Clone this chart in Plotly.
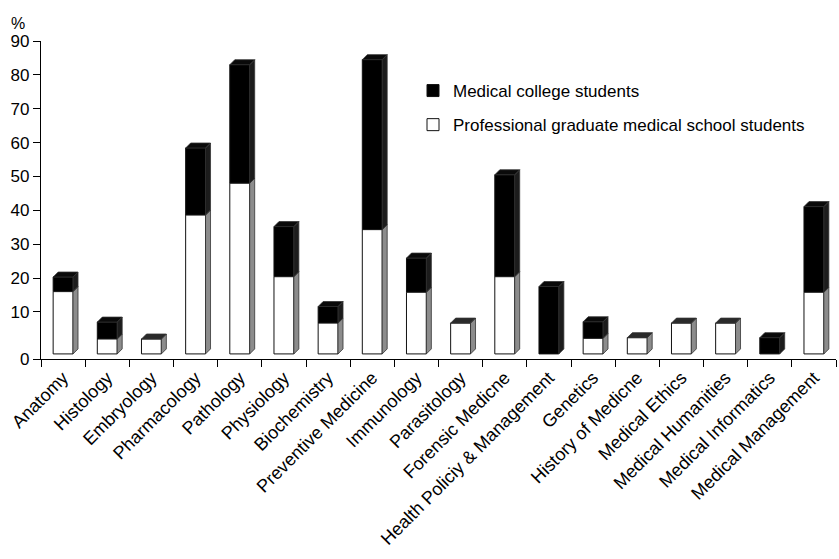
import numpy as np
import plotly.graph_objects as go

categories = ["Anatomy", "Histology", "Embryology", "Pharmacology", "Pathology",
              "Physiology", "Biochemistry", "Preventive Medicine", "Immunology",
              "Parasitology", "Forensic Medicne", "Health Policiy & Management",
              "Genetics", "History of Medicne", "Medical Ethics", "Medical Humanities",
              "Medical Informatics", "Medical Management"]
professional = [16, 2, 2, 38.6, 48, 20.4, 6.7, 34.3, 15.8, 6.7, 20.4, 0,
                2.2, 2.4, 6.7, 6.7, 0, 15.8]
medical_college = [4.3, 5, 0, 19.8, 35, 14.8, 4.9, 50.2, 10.1, 0, 30.1, 17.5,
                   4.9, 0, 0, 0, 2.4, 25.3]
y_tick_vals = [10, 20, 30, 40, 50, 60, 70, 80, 90]
y_tick_text = ["10", "20", "30", "40", "50", "60", "70", "80", "90"]

# ---- layout constants ----
W, H = 839, 559
ML, MR, MT, MB = 41, 3, 41, 200
Y_MIN, Y_MAX = -3.9, 90
FLOOR = -2.4          # visual floor of 3D bars
BAR_W = 0.45
DEPTH_PX = 5
FONT = "Liberation Sans, Arial, sans-serif"

n = len(categories)
idx = np.arange(n)
pro = np.array(professional, dtype=float)
med = np.array(medical_college, dtype=float)
total = pro + med

plot_w = W - ML - MR
plot_h = H - MT - MB
dx = DEPTH_PX * n / plot_w
dy = DEPTH_PX * (Y_MAX - Y_MIN) / plot_h

def px_x(p):
    return (p - ML) / plot_w

def px_y(p):
    return (H - MB - p) / plot_h

white_y = [p - FLOOR if p > 0 else None for p in pro]
black_base = [p if p > 0 else FLOOR for p in pro]
black_y = [t - b if m > 0 else None for t, b, m in zip(total, black_base, med)]

fig = go.Figure()
fig.add_trace(go.Bar(
    x=idx, y=black_y, base=black_base, width=BAR_W,
    name="Medical college students",
    legendgroup="med",
    marker=dict(color="black", line=dict(color="#111", width=1)),
    customdata=med, hovertemplate="%{customdata}%<extra>Medical college</extra>"))
fig.add_trace(go.Bar(
    x=idx, y=white_y, base=[FLOOR] * n, width=BAR_W,
    name="Professional graduate medical school students",
    legendgroup="pro",
    marker=dict(color="white", line=dict(color="#111", width=1)),
    customdata=pro, hovertemplate="%{customdata}%<extra>Professional</extra>"))

def side_poly(xs, ys, xr, b, t):
    xs += [xr, xr + dx, xr + dx, xr, xr, None]
    ys += [b, b + dy, t + dy, t, b, None]

def top_poly(xs, ys, xl, xr, t):
    xs += [xl, xl + dx, xr + dx, xr, xl, None]
    ys += [t, t + dy, t + dy, t, t, None]

sw_x, sw_y, sb_x, sb_y, tw_x, tw_y, tb_x, tb_y = ([] for _ in range(8))
for i in range(n):
    xl, xr = i - BAR_W / 2, i + BAR_W / 2
    if pro[i] > 0:
        side_poly(sw_x, sw_y, xr, FLOOR, pro[i])
    if med[i] > 0:
        side_poly(sb_x, sb_y, xr, black_base[i], total[i])
        top_poly(tb_x, tb_y, xl, xr, total[i])
    else:
        top_poly(tw_x, tw_y, xl, xr, pro[i])

for xs, ys, fc in [(sw_x, sw_y, "#8c8c8c"), (sb_x, sb_y, "#1c1c1c"),
                   (tw_x, tw_y, "#2a2a2a"), (tb_x, tb_y, "#0a0a0a")]:
    fig.add_trace(go.Scatter(x=xs, y=ys, fill="toself", fillcolor=fc, mode="lines",
                             line=dict(color="#333", width=0.8), showlegend=False,
                             hoverinfo="skip"))

fig.update_layout(
    width=W, height=H,
    margin=dict(l=ML, r=MR, t=MT, b=MB, autoexpand=False),
    paper_bgcolor="white", plot_bgcolor="white",
    font=dict(family=FONT, color="black"),
    barmode="overlay",
    showlegend=True,
    legend=dict(x=px_x(413), y=px_y(73),
                xanchor="left", yanchor="top",
                traceorder="grouped", tracegroupgap=9,
                font=dict(size=17, family=FONT, color="black"),
                bgcolor="rgba(0,0,0,0)"),
    xaxis=dict(range=[-0.5, n - 0.5], tickmode="array", tickvals=idx,
               ticktext=categories, tickangle=-45, ticks="",
               tickfont=dict(size=18, family=FONT, color="black"),
               showline=True, linecolor="black", linewidth=1.3,
               showgrid=False, zeroline=False, automargin=False, fixedrange=True,
               minor=dict(ticks="outside", ticklen=7, tick0=-0.5, dtick=1,
                          tickcolor="black", tickwidth=1.3, showgrid=False)),
    yaxis=dict(range=[Y_MIN, Y_MAX], tickmode="array",
               tickvals=[Y_MIN] + y_tick_vals, ticktext=["0"] + y_tick_text,
               ticks="outside", ticklen=7, tickcolor="black", tickwidth=1.3,
               tickfont=dict(size=17, family=FONT, color="black"),
               showline=True, linecolor="black", linewidth=1.3,
               showgrid=False, zeroline=False, automargin=False, fixedrange=True),
    annotations=[dict(text="%", xref="paper", yref="paper",
                      x=px_x(18), y=px_y(23), xanchor="center", yanchor="middle",
                      showarrow=False, font=dict(size=16, family=FONT, color="black"))],
)

fig.write_html("out.html")
